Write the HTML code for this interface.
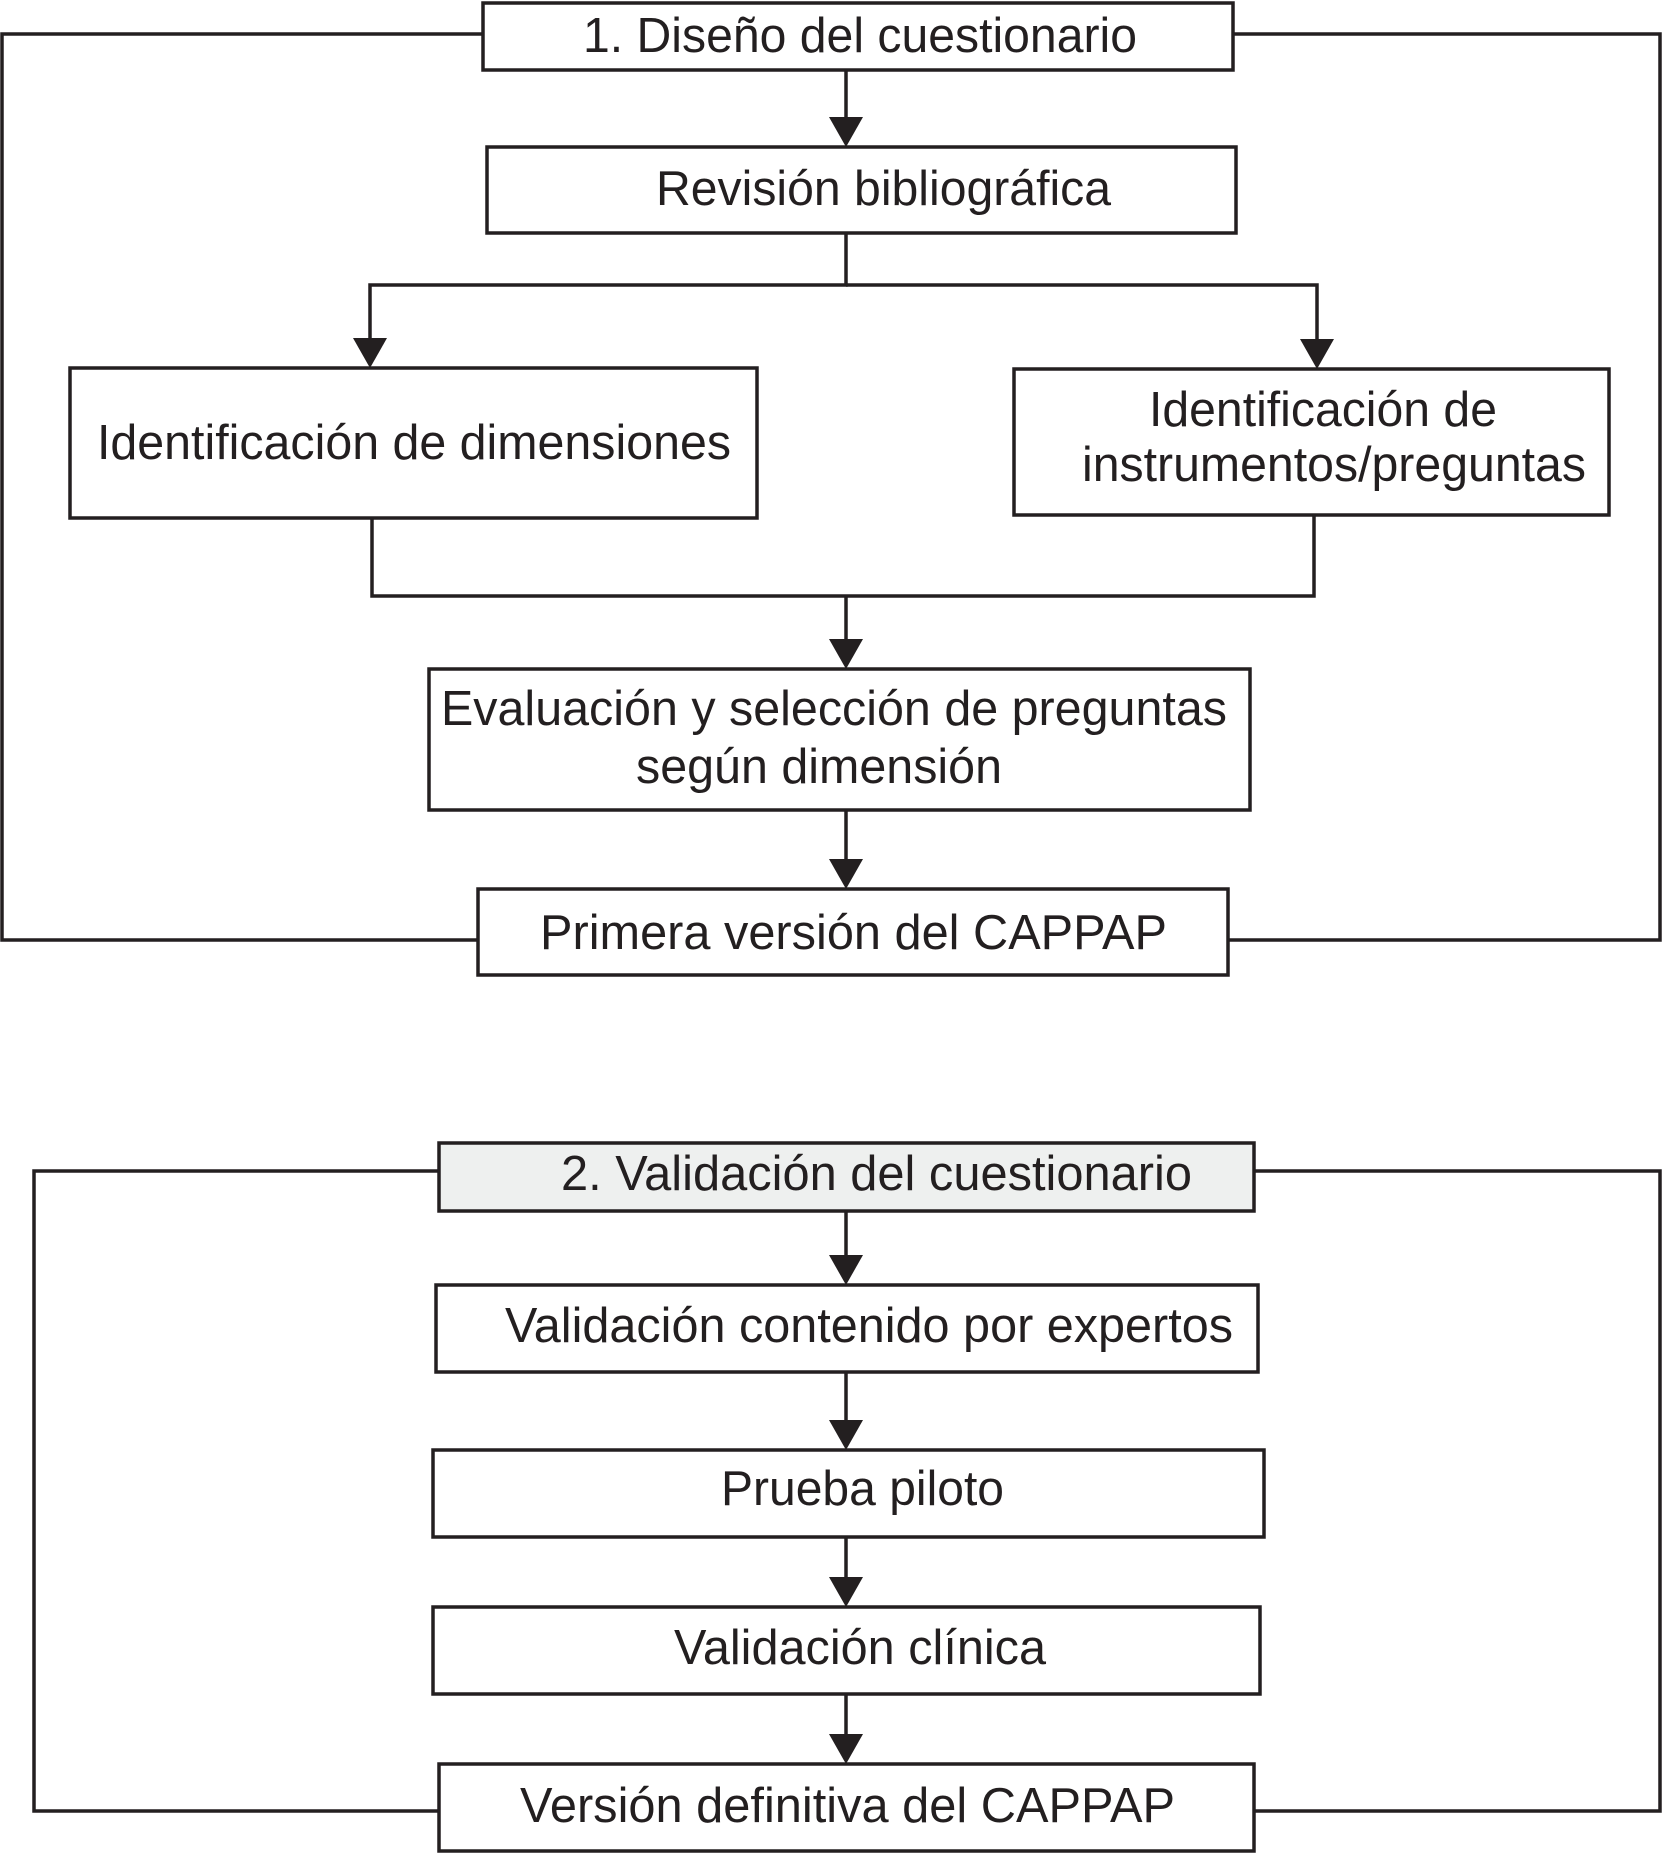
<!DOCTYPE html>
<html><head><meta charset="utf-8"><style>
html,body{margin:0;padding:0;background:#fff;}
svg{display:block;}
text{font-family:"Liberation Sans",Arial,sans-serif;font-size:49px;fill:#231f20;}
</style></head><body>
<svg width="1662" height="1853" viewBox="0 0 1662 1853" xmlns="http://www.w3.org/2000/svg">
<g fill="none" stroke="#231f20" stroke-width="3.5">
<!-- section 1 loop -->
<polyline points="483,34 2,34 2,940 478,940"/>
<polyline points="1233,34 1660,34 1660,940 1228,940"/>
<rect x="483" y="3" width="750" height="67" fill="#fff"/>
<rect x="487" y="147" width="749" height="86" fill="#fff"/>
<rect x="70" y="368" width="687" height="150" fill="#fff"/>
<rect x="1014" y="369" width="595" height="146" fill="#fff"/>
<rect x="429" y="669" width="821" height="141" fill="#fff"/>
<rect x="478" y="889" width="750" height="86" fill="#fff"/>
<line x1="846" y1="70" x2="846" y2="120"/>
<polyline points="846,233 846,285 370,285 370,340"/>
<polyline points="846,285 1317,285 1317,340"/>
<polyline points="372,518 372,596 1314,596 1314,515"/>
<line x1="846" y1="596" x2="846" y2="641"/>
<line x1="846" y1="810" x2="846" y2="861"/>
<!-- section 2 -->
<polyline points="439,1171 34,1171 34,1811 439,1811"/>
<polyline points="1254,1171 1660,1171 1660,1811 1254,1811"/>
<rect x="439" y="1143" width="815" height="68" fill="#eef0ef"/>
<rect x="436" y="1285" width="822" height="87" fill="#fff"/>
<rect x="433" y="1450" width="831" height="87" fill="#fff"/>
<rect x="433" y="1607" width="827" height="87" fill="#fff"/>
<rect x="439" y="1764" width="815" height="87" fill="#fff"/>
<line x1="846" y1="1211" x2="846" y2="1258"/>
<line x1="846" y1="1372" x2="846" y2="1422"/>
<line x1="846" y1="1537" x2="846" y2="1579"/>
<line x1="846" y1="1694" x2="846" y2="1736"/>
</g>
<g fill="#231f20">
<polygon points="829,117 863,117 846,147"/>
<polygon points="353,338 387,338 370,368"/>
<polygon points="1300,339 1334,339 1317,369"/>
<polygon points="829,639 863,639 846,669"/>
<polygon points="829,859 863,859 846,889"/>
<polygon points="829,1255 863,1255 846,1285"/>
<polygon points="829,1420 863,1420 846,1450"/>
<polygon points="829,1577 863,1577 846,1607"/>
<polygon points="829,1734 863,1734 846,1764"/>
</g>
<text x="583" y="52" textLength="554" lengthAdjust="spacingAndGlyphs">1. Diseño del cuestionario</text>
<text x="656" y="205" textLength="455" lengthAdjust="spacingAndGlyphs">Revisión bibliográfica</text>
<text x="97" y="459" textLength="634" lengthAdjust="spacingAndGlyphs">Identificación de dimensiones</text>
<text x="1149" y="426" textLength="348" lengthAdjust="spacingAndGlyphs">Identificación de</text>
<text x="1082" y="481" textLength="504" lengthAdjust="spacingAndGlyphs">instrumentos/preguntas</text>
<text x="441" y="725" textLength="786" lengthAdjust="spacingAndGlyphs">Evaluación y selección de preguntas</text>
<text x="636" y="783" textLength="366" lengthAdjust="spacingAndGlyphs">según dimensión</text>
<text x="540" y="949" textLength="627" lengthAdjust="spacingAndGlyphs">Primera versión del CAPPAP</text>
<text x="561" y="1190" textLength="631" lengthAdjust="spacingAndGlyphs">2. Validación del cuestionario</text>
<text x="505" y="1342" textLength="728" lengthAdjust="spacingAndGlyphs">Validación contenido por expertos</text>
<text x="721" y="1505" textLength="283" lengthAdjust="spacingAndGlyphs">Prueba piloto</text>
<text x="674" y="1664" textLength="372" lengthAdjust="spacingAndGlyphs">Validación clínica</text>
<text x="520" y="1822" textLength="655" lengthAdjust="spacingAndGlyphs">Versión definitiva del CAPPAP</text>
</svg>
</body></html>
